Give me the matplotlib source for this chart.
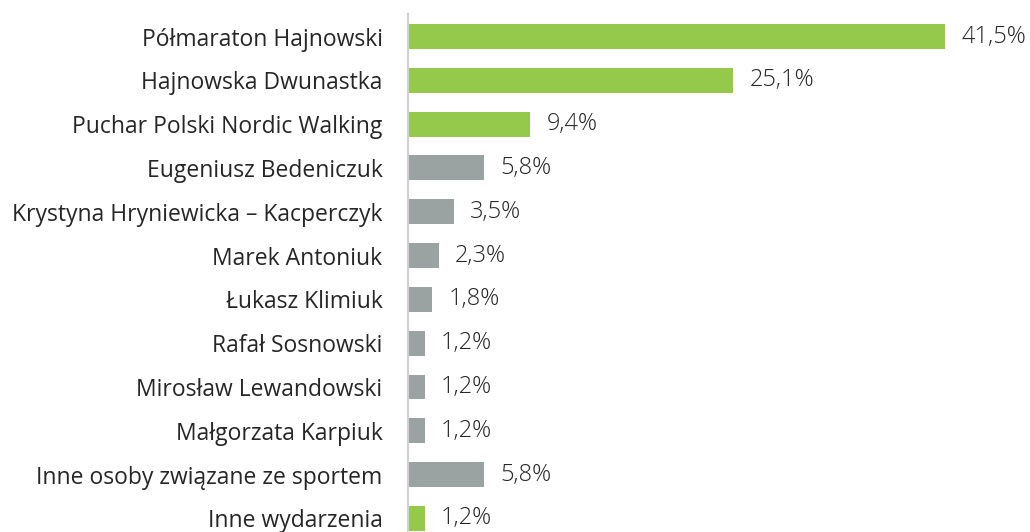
import matplotlib
matplotlib.use("Agg")
import matplotlib.pyplot as plt

categories = [
    "Półmaraton Hajnowski",
    "Hajnowska Dwunastka",
    "Puchar Polski Nordic Walking",
    "Eugeniusz Bedeniczuk",
    "Krystyna Hryniewicka – Kacperczyk",
    "Marek Antoniuk",
    "Łukasz Klimiuk",
    "Rafał Sosnowski",
    "Mirosław Lewandowski",
    "Małgorzata Karpiuk",
    "Inne osoby związane ze sportem",
    "Inne wydarzenia",
]
values = [41.5, 25.1, 9.4, 5.8, 3.5, 2.3, 1.8, 1.2, 1.2, 1.2, 5.8, 1.2]
is_event = [True, True, True, False, False, False, False, False, False, False, False, True]

GREEN = "#94C94B"
GREY = "#9AA3A2"
TXT = "#262626"

plt.rcParams['font.family'] = ['Open Sans', 'DejaVu Sans']

W, H = 1030, 532
fig = plt.figure(figsize=(W / 100, H / 100), dpi=100)
ax = fig.add_axes([409 / W, 0, 620 / W, 518 / H])

colors = [GREEN if e else GREY for e in is_event]
ypos = list(range(len(categories)))
ax.barh(ypos, values, height=0.57, color=colors, left=0)
ax.set_xlim(0, 620 / 12.92)
ax.set_ylim(11.31, -0.514)

FS = 16.5
for y, v in zip(ypos, values):
    ax.annotate(f"{v:.1f}%".replace(".", ","), (v, y), xytext=(11.5, 0),
                textcoords="offset points", va="center", ha="left",
                fontsize=17, color=TXT, fontweight="light")

ax.tick_params(axis="y", length=0, pad=18, labelsize=FS, labelcolor=TXT)
ax.set_yticks(ypos)
ax.set_yticklabels(categories, fontsize=FS, fontweight="light", color=TXT)
ax.set_xticks([])
for s in ["top", "right", "bottom"]:
    ax.spines[s].set_visible(False)
ax.spines["left"].set_color("#D0D0D0")
ax.spines["left"].set_linewidth(1.5)
ax.spines["left"].set_position(("outward", 1))

fig.savefig("out.png", dpi=100)
